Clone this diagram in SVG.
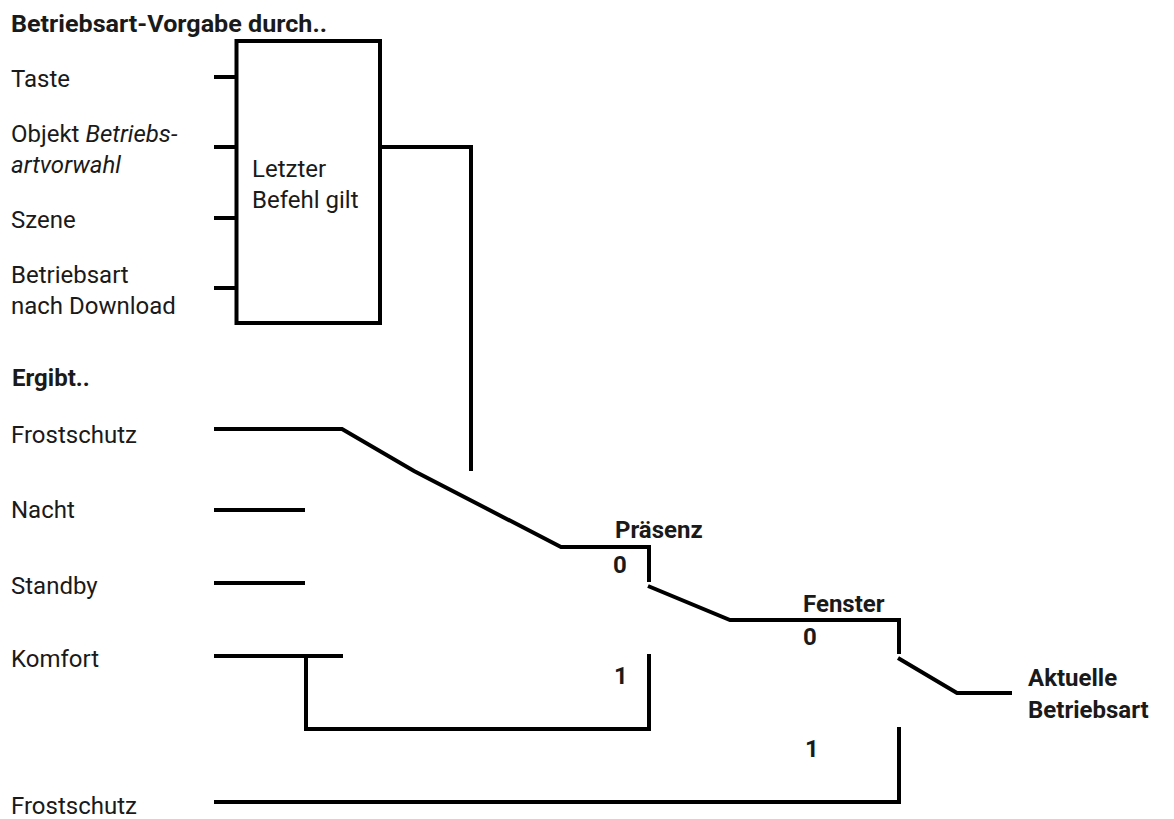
<svg xmlns="http://www.w3.org/2000/svg" width="1174" height="819" viewBox="0 0 1174 819">
<style>
.t{font-family:Roboto,"Liberation Sans",sans-serif;font-size:24px;fill:#1a1a1a}
.b{font-family:Roboto,"Liberation Sans",sans-serif;font-size:24px;font-weight:bold;fill:#1a1a1a}
.i{font-style:italic}
.ln{fill:none;stroke:#000;stroke-width:4;stroke-linecap:butt;stroke-linejoin:miter}
</style>
<rect width="1174" height="819" fill="#fff"/>
<g id="title"><text class="b" x="11" y="32" textLength="316" lengthAdjust="spacingAndGlyphs">Betriebsart-Vorgabe durch..</text></g>
<g id="in-taste"><text class="t" x="11" y="87">Taste</text></g>
<g id="in-objekt"><text class="t" x="11" y="142">Objekt <tspan class="i">Betriebs-</tspan></text><text class="t i" x="11" y="173">artvorwahl</text></g>
<g id="in-szene"><text class="t" x="11" y="228">Szene</text></g>
<g id="in-download"><text class="t" x="11" y="283">Betriebsart</text><text class="t" x="11" y="314">nach Download</text></g>
<g id="box"><rect class="ln" x="236.5" y="41" width="143.5" height="282"/><text class="t" x="252" y="177">Letzter</text><text class="t" x="252" y="208">Befehl gilt</text></g>
<g id="ergibt"><text class="b" x="12" y="386">Ergibt..</text></g>
<g id="frost1"><text class="t" x="11" y="443">Frostschutz</text></g>
<g id="nacht"><text class="t" x="11" y="518">Nacht</text></g>
<g id="standby"><text class="t" x="11" y="594">Standby</text></g>
<g id="komfort"><text class="t" x="11" y="667">Komfort</text></g>
<g id="frost2"><text class="t" x="11" y="814">Frostschutz</text></g>
<g id="praesenz"><text class="b" x="615" y="538">Präsenz</text><text class="b" x="613" y="573">0</text><text class="b" x="614" y="684">1</text></g>
<g id="fenster"><text class="b" x="803" y="612">Fenster</text><text class="b" x="803" y="645">0</text><text class="b" x="805" y="757">1</text></g>
<g id="aktuell"><text class="b" x="1028" y="686">Aktuelle</text><text class="b" x="1028" y="718">Betriebsart</text></g>
<g id="connectors">
<path class="ln" d="M214 77H236.5M214 147H236.5M214 218H236.5M214 288H236.5"/>
<path class="ln" d="M380 147H471V471"/>
<path class="ln" d="M214 429H342L414 471L561 547H649V582"/>
<path class="ln" d="M214 510H305M214 583H305"/>
<path class="ln" d="M648 586L730 620H899V654"/>
<path class="ln" d="M898 658L957 693H1012"/>
<path class="ln" d="M214 656H343M306 656V729H649V654"/>
<path class="ln" d="M214 802H899V727"/>
</g>
</svg>
